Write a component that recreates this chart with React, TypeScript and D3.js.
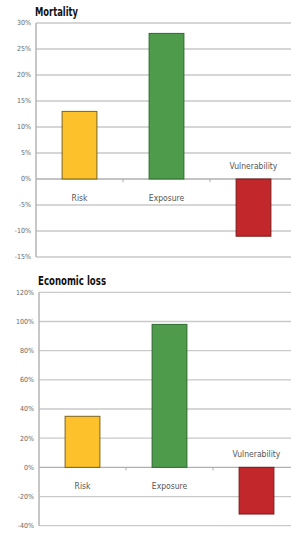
import React from "react";
import * as d3 from "d3";

const categories = ["Risk", "Exposure", "Vulnerability"];
const mortalityValues = [13, 28, -11];
const lossValues = [35, 98, -32];
const mortalityTicks = [-15, -10, -5, 0, 5, 10, 15, 20, 25, 30];
const lossTicks = [-40, -20, 0, 20, 40, 60, 80, 100, 120];
const barColors = ["#FDC12B", "#4F9B4C", "#C2272B"];
const barStrokes = ["#7a6420", "#2f6a30", "#7a1a1a"];

const NARROW = "'Liberation Sans Narrow', 'DejaVu Sans Condensed', 'Roboto', sans-serif";

type PanelProps = {
  title: string;
  titleWidth: number;
  values: number[];
  ticks: number[];
  x0: number;
  x1: number;
  yTop: number;
  yBottom: number;
  titleY: number;
};

function Panel({ title, titleWidth, values, ticks, x0, x1, yTop, yBottom, titleY }: PanelProps) {
  const y = d3
    .scaleLinear()
    .domain([ticks[0], ticks[ticks.length - 1]])
    .range([yBottom, yTop]);
  const x = d3.scaleBand<string>().domain(categories).range([x0, x1]).paddingInner(0.6).paddingOuter(0.3);
  const step = x.step();
  const bw = x.bandwidth();
  const y0 = y(0);
  return (
    <g>
      <text
        x={x0 - 1}
        y={titleY}
        fontFamily={NARROW}
        fontWeight="bold"
        fontSize={12}
        fill="#111"
        textLength={titleWidth}
        lengthAdjust="spacingAndGlyphs"
      >
        {title}
      </text>
      {ticks.map((t) => (
        <g key={t}>
          <line x1={x0} x2={x1 + 10} y1={y(t)} y2={y(t)} stroke={t === 0 ? "#b0b0b0" : "#c9c9c9"} strokeWidth={1.3} />
          <text
            x={x0 - 5}
            y={y(t)}
            dy="0.35em"
            textAnchor="end"
            fontFamily={NARROW}
            fontSize={7}
            fill="#666"
          >
            {t + "%"}
          </text>
        </g>
      ))}
      <line x1={x0} x2={x0} y1={yTop} y2={yBottom} stroke="#b5b5b5" strokeWidth={1.5} />
      {[1, 2].map((i) => (
        <line key={i} x1={x0 + step * i} x2={x0 + step * i} y1={y0} y2={y0 + 3} stroke="#aaa" strokeWidth={1} />
      ))}
      {categories.map((c, i) => {
        const v = values[i];
        const bx = x(c)!;
        return (
          <g key={c}>
            <rect
              x={bx}
              width={bw}
              y={Math.min(y(v), y0)}
              height={Math.abs(y(v) - y0)}
              fill={barColors[i]}
              stroke={barStrokes[i]}
              strokeWidth={1}
            />
            <text
              x={bx + bw / 2}
              y={v >= 0 ? y0 + 22 : y0 - 10}
              textAnchor="middle"
              fontFamily={NARROW}
              fontSize={8.5}
              fill="#555"
            >
              {c}
            </text>
          </g>
        );
      })}
    </g>
  );
}

export default function App() {
  return (
    <svg
      width={291}
      height={533}
      style={{ position: "absolute", left: 0, top: 0, background: "#fff" }}
    >
      <rect width={291} height={533} fill="#fff" />
      <Panel
        title="Mortality"
        titleWidth={43}
        values={mortalityValues}
        ticks={mortalityTicks}
        x0={36}
        x1={297}
        yTop={23}
        yBottom={257}
        titleY={16}
      />
      <Panel
        title="Economic loss"
        titleWidth={68}
        values={lossValues}
        ticks={lossTicks}
        x0={39}
        x1={300}
        yTop={292.3}
        yBottom={525.7}
        titleY={285}
      />
    </svg>
  );
}
